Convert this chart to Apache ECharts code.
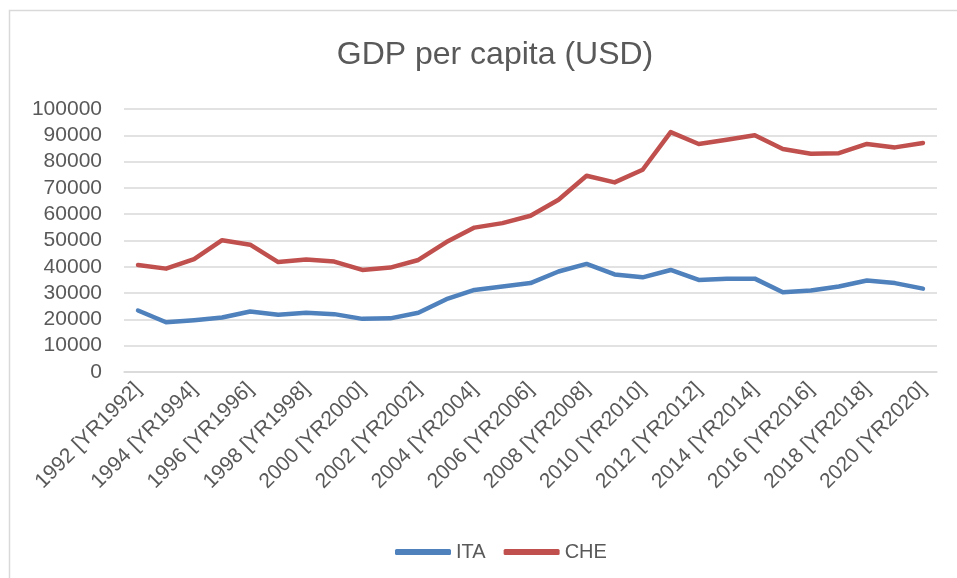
<!DOCTYPE html>
<html>
<head>
<meta charset="utf-8">
<title>GDP per capita (USD)</title>
<script src="https://cdn.jsdelivr.net/npm/echarts@6/dist/echarts.min.js"></script>
<style>
  html, body { margin: 0; padding: 0; background: #fff; }
  #chart { width: 957px; height: 578px; }
</style>
</head>
<body>
<div id="chart"></div>
<script>
// years shown on the category axis
const years = [
  1992, 1993, 1994, 1995, 1996, 1997, 1998, 1999, 2000, 2001,
  2002, 2003, 2004, 2005, 2006, 2007, 2008, 2009, 2010, 2011,
  2012, 2013, 2014, 2015, 2016, 2017, 2018, 2019, 2020
];
const categories = years.map(y => y + " [YR" + y + "]");

// values (USD)
const ita = [
  23400, 18900, 19700, 20700, 23000, 21800, 22500, 22000, 20200, 20400,
  22500, 27700, 31200, 32500, 33800, 38200, 41100, 37100, 36000, 38800,
  35000, 35500, 35500, 30300, 31000, 32500, 34800, 33800, 31700
];
const che = [
  40700, 39300, 42900, 50100, 48400, 41800, 42800, 42000, 38800, 39700,
  42600, 49400, 54900, 56600, 59400, 65500, 74600, 72100, 76900, 91200,
  86700, 88300, 90000, 84800, 83000, 83200, 86700, 85400, 87100
];

const yMin = 0;
const yMax = 100000;
const yStep = 10000;

const textColor = "#595959";
const lineGray = "#d9d9d9";
const font = "'Liberation Sans', Arial, sans-serif";

const chart = echarts.init(document.getElementById("chart"), null, { renderer: "canvas" });

const option = {
  animation: false,
  textStyle: { fontFamily: font },
  color: ["#4f81bd", "#c0504d"],
  graphic: [
    {
      type: "rect",
      shape: { x: 9.5, y: 10.5, width: 960, height: 580 },
      style: { fill: "none", stroke: lineGray, lineWidth: 1.5 },
      silent: true
    }
  ],
  title: {
    text: "GDP per capita (USD)",
    left: 490,
    textAlign: "center",
    top: 34,
    textStyle: {
      color: textColor,
      fontSize: 32,
      fontWeight: "normal",
      fontFamily: font
    }
  },
  legend: {
    data: ["ITA", "CHE"],
    top: 537,
    left: 390,
    icon: "roundRect",
    itemWidth: 56,
    itemHeight: 6,
    itemGap: 18,
    textStyle: { color: textColor, fontSize: 20, fontFamily: font }
  },
  grid: {
    left: 124,
    right: 20,
    top: 109,
    bottom: 206,
    outerBoundsMode: "none"
  },
  xAxis: {
    type: "category",
    data: categories,
    boundaryGap: true,
    axisLine: { show: true, lineStyle: { color: lineGray, width: 1.5 } },
    axisTick: { show: false },
    axisLabel: {
      interval: 1,
      rotate: 45,
      margin: 14,
      color: textColor,
      fontSize: 21,
      fontFamily: font
    }
  },
  yAxis: {
    type: "value",
    min: yMin,
    max: yMax,
    interval: yStep,
    axisLine: { show: false },
    axisTick: { show: false },
    splitLine: { lineStyle: { color: lineGray, width: 1.5 } },
    axisLabel: {
      margin: 22,
      color: textColor,
      fontSize: 21,
      fontFamily: font,
      formatter: v => String(v)
    }
  },
  series: [
    {
      name: "ITA",
      type: "line",
      data: ita,
      showSymbol: false,
      symbol: "none",
      lineStyle: { width: 4.5, cap: "round", join: "round" }
    },
    {
      name: "CHE",
      type: "line",
      data: che,
      showSymbol: false,
      symbol: "none",
      lineStyle: { width: 4.5, cap: "round", join: "round" }
    }
  ]
};

chart.setOption(option);
</script>
</body>
</html>
